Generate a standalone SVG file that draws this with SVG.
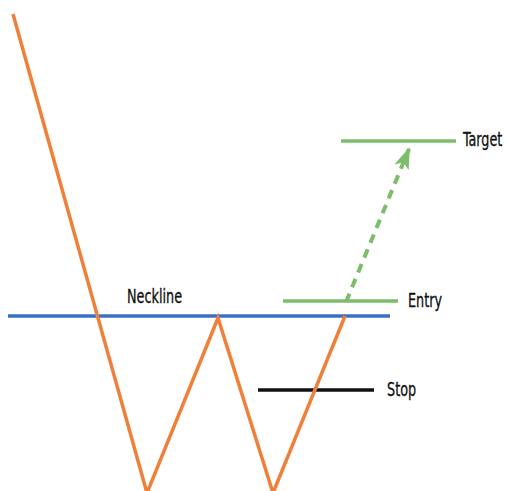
<svg xmlns="http://www.w3.org/2000/svg" width="508" height="491" viewBox="0 0 508 491">
<style>
.lbl{font-family:"DejaVu Sans Condensed","Liberation Sans",sans-serif;font-size:15px;fill:#111;stroke:#111;stroke-width:0.25}
.grn{stroke:#7cbd6b;stroke-width:3.5;fill:none}
</style>
<defs>
<marker id="ah" viewBox="0 0 20 14" refX="18" refY="7" markerWidth="5.5" markerHeight="4" orient="auto" markerUnits="strokeWidth">
<path d="M0,0 L20,7 L0,14 L5,7 Z" fill="#7cbd6b"/>
</marker>
</defs>
<rect width="508" height="491" fill="#fff"/>
<g id="connectors">
<path d="M346,302 L409,149" stroke="#7cbd6b" stroke-width="4" stroke-dasharray="9,7" fill="none" marker-end="url(#ah)"/>
</g>
<g id="neckline"><line x1="8" y1="316" x2="390" y2="316" stroke="#3b6fc6" stroke-width="3.5"/><text class="lbl" transform="translate(127,303) scale(0.95,1.25)">Neckline</text></g>
<g id="target"><line class="grn" x1="341" y1="141" x2="456" y2="141"/><text class="lbl" transform="translate(463,146) scale(0.95,1.25)">Target</text></g>
<g id="entry"><line class="grn" x1="283" y1="301" x2="398" y2="301"/><text class="lbl" transform="translate(408,307) scale(0.95,1.25)">Entry</text></g>
<g id="stop"><line x1="258" y1="390" x2="374" y2="390" stroke="#111" stroke-width="3.5"/><text class="lbl" transform="translate(387,396) scale(0.95,1.25)">Stop</text></g>
<g id="price"><polyline points="13,14 147,493 218,318 273,493 345,316" fill="none" stroke="#f07f3a" stroke-width="3.5" stroke-linejoin="miter"/></g>
</svg>
